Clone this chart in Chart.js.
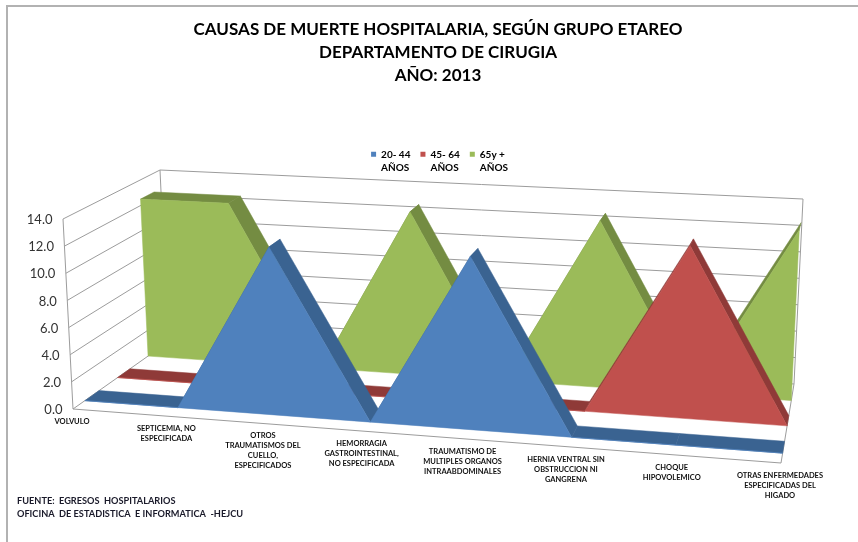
<!DOCTYPE html>
<html><head><meta charset="utf-8">
<script src="https://cdn.jsdelivr.net/npm/chart.js@4"></script>
<style>html,body{margin:0;padding:0;background:#fff}canvas{display:block;filter:blur(.4px)}</style>
</head><body><canvas id="c" width="858" height="542"></canvas>
<script>
const categories = [
  ["VOLVULO"],
  ["SEPTICEMIA, NO","ESPECIFICADA"],
  ["OTROS","TRAUMATISMOS DEL","CUELLO,","ESPECIFICADOS"],
  ["HEMORRAGIA","GASTROINTESTINAL,","NO ESPECIFICADA"],
  ["TRAUMATISMO DE","MULTIPLES ORGANOS","INTRAABDOMINALES"],
  ["HERNIA VENTRAL SIN","OBSTRUCCION NI","GANGRENA"],
  ["CHOQUE","HIPOVOLEMICO"],
  ["OTRAS ENFERMEDADES","ESPECIFICADAS DEL","HIGADO"]
];
const series2044 = [0, 0, 12.5, 0, 12.5, 0, 0, 0];
const series4564 = [0, 0, 0, 0, 0, 0, 12.5, 0];
const series65 = [12.5, 12.5, 0, 12.5, 0, 12.5, 0, 12.5];
const seriesNames = [["20- 44","AÑOS"],["45- 64","AÑOS"],["65y +","AÑOS"]];
const titleLines = ["CAUSAS DE MUERTE HOSPITALARIA, SEGÚN GRUPO ETAREO","DEPARTAMENTO DE CIRUGIA","AÑO: 2013"];
const footerLines = ["FUENTE:  EGRESOS  HOSPITALARIOS","OFICINA  DE ESTADISTICA  E INFORMATICA  -HEJCU"];

// 3D box corners: [front, back] x [left, right] x [bottom, top]
const BOX = {
  FLB:[73,409], FLT:[63,219], FRB:[781,463], FRT:[790,249.5],
  BLB:[168,342], BLT:[160,170], BRB:[794,384], BRT:[803,199]
};
const PERSP = 0.923;
const mix = (a,b,t)=>[a[0]+(b[0]-a[0])*t, a[1]+(b[1]-a[1])*t];
function project(u,v,d){
  const w = PERSP*u/((1-u)+PERSP*u);
  const lb = mix(BOX.FLB,BOX.BLB,d), lt = mix(BOX.FLT,BOX.BLT,d);
  const rb = mix(BOX.FRB,BOX.BRB,d), rt = mix(BOX.FRT,BOX.BRT,d);
  return mix(mix(lb,rb,w), mix(lt,rt,w), v);
}
function poly(ctx,pts,fill){
  ctx.beginPath();
  pts.forEach((p,i)=> i?ctx.lineTo(p[0],p[1]):ctx.moveTo(p[0],p[1]));
  ctx.closePath(); ctx.fillStyle=fill; ctx.fill();
  ctx.strokeStyle=fill; ctx.lineWidth=0.5; ctx.stroke();
}
class Area3D extends Chart.LineController {
  draw(){
    const meta=this.getMeta(), ds=this.getDataset(), ctx=this.chart.ctx;
    const xs=meta.xScale, ys=meta.yScale;
    const h=ds.heightFactor||1;
    const n=meta.data.map(p=>[(p.x-xs.left)/xs.width,h*(ys.bottom-p.y)/ys.height]);
    const [d0,d1]=ds.depth;
    ctx.save();
    for(let i=0;i<n.length-1;i++){
      const a=n[i], b=n[i+1];
      poly(ctx,[project(a[0],a[1],d0),project(b[0],b[1],d0),project(b[0],b[1],d1),project(a[0],a[1],d1)],ds.sideColor);
    }
    const front=n.map(p=>project(p[0],p[1],d0));
    front.push(project(n[n.length-1][0],0,d0),project(n[0][0],0,d0));
    poly(ctx,front,ds.backgroundColor);
    ctx.restore();
  }
}
Area3D.id='area3d';
Area3D.defaults=Chart.LineController.defaults;
Area3D.overrides=Chart.LineController.overrides;
Chart.register(Area3D);

const scene={
  id:'scene',
  afterLayout(chart){ chart.legend.bottom+=16; },
  beforeDraw(chart){
    const c=chart.ctx;
    c.save();
    c.fillStyle='#fff'; c.fillRect(0,0,858,542);
    c.fillStyle='#b2b2b2'; c.fillRect(6,5,852,2); c.fillRect(6,5,2,537);
    c.restore();
  },
  beforeDatasetsDraw(chart){
    const c=chart.ctx, ys=chart.scales.y;
    const line=(a,b)=>{c.beginPath();c.moveTo(a[0],a[1]);c.lineTo(b[0],b[1]);c.stroke();};
    c.save();
    c.strokeStyle='#9c9c9c'; c.lineWidth=1;
    ys.ticks.forEach(t=>{
      const v=(ys.bottom-ys.getPixelForValue(t.value))/ys.height;
      line(project(0,v,0),project(0,v,1));
      line(project(0,v,1),project(1,v,1));
    });
    line(project(0,0,0),project(0,1,0));
    line(project(0,0,1),project(0,1,1));
    line(project(1,0,1),project(1,1,1));
    line(project(0,0,0),project(1,0,0));
    line(project(1,0,0),project(1,0,1));
    c.restore();
  },
  afterDraw(chart){
    const c=chart.ctx, xs=chart.scales.x, ys=chart.scales.y;
    c.save();
    c.textAlign='center'; c.textBaseline='middle'; c.fillStyle='#111';
    c.font='bold 7.5px Lato';
    xs.ticks.forEach((t,i)=>{
      const p=project(i/(xs.ticks.length-1),0,0);
      [].concat(xs.getLabelForValue(t.value)).forEach((s,j)=>c.fillText(s,p[0]-1,p[1]+12.5+j*10));
    });
    c.textAlign='right'; c.font='13px Lato'; c.fillStyle='#333';
    ys.ticks.forEach(t=>{
      const v=(ys.bottom-ys.getPixelForValue(t.value))/ys.height;
      const p=project(0,v,0);
      c.fillText(t.label,p[0]-10.5,p[1]+1);
    });
    c.textAlign='left'; c.font='bold 9.2px Lato'; c.fillStyle='#1a1a2a';
    footerLines.forEach((s,j)=>c.fillText(s,17,501+j*13));
    c.restore();
  }
};

new Chart(document.getElementById('c'),{
  type:'area3d',
  data:{labels:categories,datasets:[
    {label:'20- 44 AÑOS',data:series2044,backgroundColor:'#4F81BD',sideColor:'#3A6391',depth:[0.125,0.275],heightFactor:0.97,clip:false,pointRadius:0},
    {label:'45- 64 AÑOS',data:series4564,backgroundColor:'#C0504D',sideColor:'#8F3A38',depth:[0.47,0.6],heightFactor:0.98,clip:false,pointRadius:0},
    {label:'65y + AÑOS',data:series65,backgroundColor:'#9BBB59',sideColor:'#748C42',depth:[0.79,0.93],clip:false,pointRadius:0}
  ]},
  options:{
    responsive:false,animation:false,
    layout:{padding:{left:18,right:0,top:0,bottom:123}},
    plugins:{
      tooltip:{enabled:false},
      title:{display:true,text:titleLines,color:'#000',font:{family:'Lato',size:17,weight:'bold',lineHeight:1.36},padding:{top:18,bottom:52}},
      subtitle:{display:true,text:' ',font:{size:1,lineHeight:1},padding:{top:0,bottom:33}},
      legend:{display:true,position:'top',weight:1600,
        labels:{boxWidth:5,boxHeight:5,padding:10,color:'#222',font:{family:'Lato',size:10,weight:'bold',lineHeight:1.3},
          generateLabels(chart){
            return chart.data.datasets.map((d,i)=>{
              const text=seriesNames[i].slice();
              text.toString=()=>seriesNames[i][0];
              return {text,fillStyle:d.backgroundColor,strokeStyle:d.backgroundColor,lineWidth:0,datasetIndex:i,hidden:false};
            });
          }}}
    },
    scales:{
      x:{type:'category',offset:false,display:true,grid:{display:false},border:{display:false},ticks:{display:false}},
      y:{type:'linear',min:0,max:14,afterFit(s){s.width=52;},grid:{display:false},border:{display:false},
        ticks:{display:false,stepSize:2,callback:v=>v.toFixed(1)}}
    }
  },
  plugins:[scene]
});
</script></body></html>
